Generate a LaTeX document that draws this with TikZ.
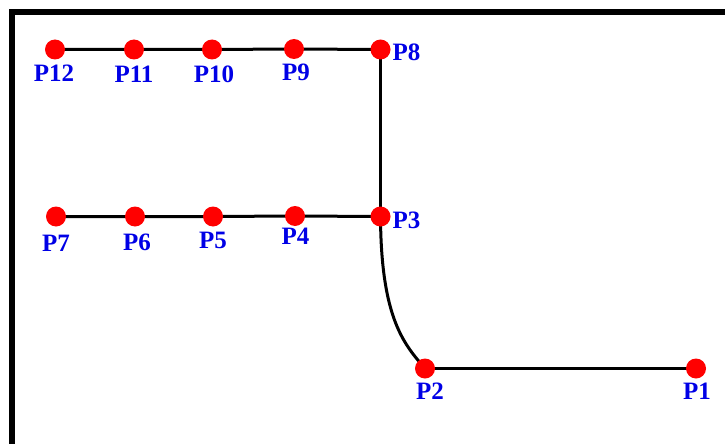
\documentclass[tikz,border=0pt]{standalone}
\usepackage{fontspec}
\setmainfont{Liberation Serif}
\usetikzlibrary{backgrounds}
\definecolor{dotred}{RGB}{255,0,0}
\definecolor{lblblue}{RGB}{0,0,230}
\begin{document}
\begin{tikzpicture}[x=1pt,y=-1pt,
  dot/.style={circle,fill=dotred,draw=none,minimum size=20pt,inner sep=0pt},
  lbl/.style={text=lblblue,font=\fontsize{25}{25}\selectfont\bfseries,inner sep=0pt,anchor=center},
  wire/.style={line width=3pt,black},
  frame/.style={line width=6pt,black,line join=miter}]
\useasboundingbox (0,0) rectangle (725,444);
% points
\node[dot] (p12) at (55,49.5) {};
\node[dot] (p11) at (134,49.5) {};
\node[dot] (p10) at (212,49.5) {};
\node[dot] (p9) at (294,49) {};
\node[dot] (p8) at (380.5,49.5) {};
\node[dot] (p7) at (56,216.5) {};
\node[dot] (p6) at (135,216.5) {};
\node[dot] (p5) at (213,216.5) {};
\node[dot] (p4) at (295,216) {};
\node[dot] (p3) at (380.5,216.5) {};
\node[dot] (p2) at (425,368.5) {};
\node[dot] (p1) at (696,368.5) {};
% labels
\node[lbl] (l12) at (54,73.5) {P12};
\node[lbl] (l11) at (134,74.5) {P11};
\node[lbl] (l10) at (214,74) {P10};
\node[lbl] (l9) at (296,72.5) {P9};
\node[lbl] (l8) at (406.5,52) {P8};
\node[lbl] (l7) at (56,243) {P7};
\node[lbl] (l6) at (137,242) {P6};
\node[lbl] (l5) at (213,240) {P5};
\node[lbl] (l4) at (295.5,236.5) {P4};
\node[lbl] (l3) at (406.5,220.5) {P3};
\node[lbl] (l2) at (430,391) {P2};
\node[lbl] (l1) at (697,391) {P1};
\begin{scope}[on background layer]
\draw[frame] (12,444) -- (12,12) -- (725,12);
\draw[wire] (p12.center) -- (p11.center) -- (p10.center) -- (p9.center) -- (p8.center);
\draw[wire] (p8.center) -- (p3.center);
\draw[wire] (p7.center) -- (p6.center) -- (p5.center) -- (p4.center) -- (p3.center);
\draw[wire] (p3.center) .. controls (381,320) and (405,345) .. (p2.center);
\draw[wire] (p2.center) -- (p1.center);
\end{scope}
\end{tikzpicture}
\end{document}
